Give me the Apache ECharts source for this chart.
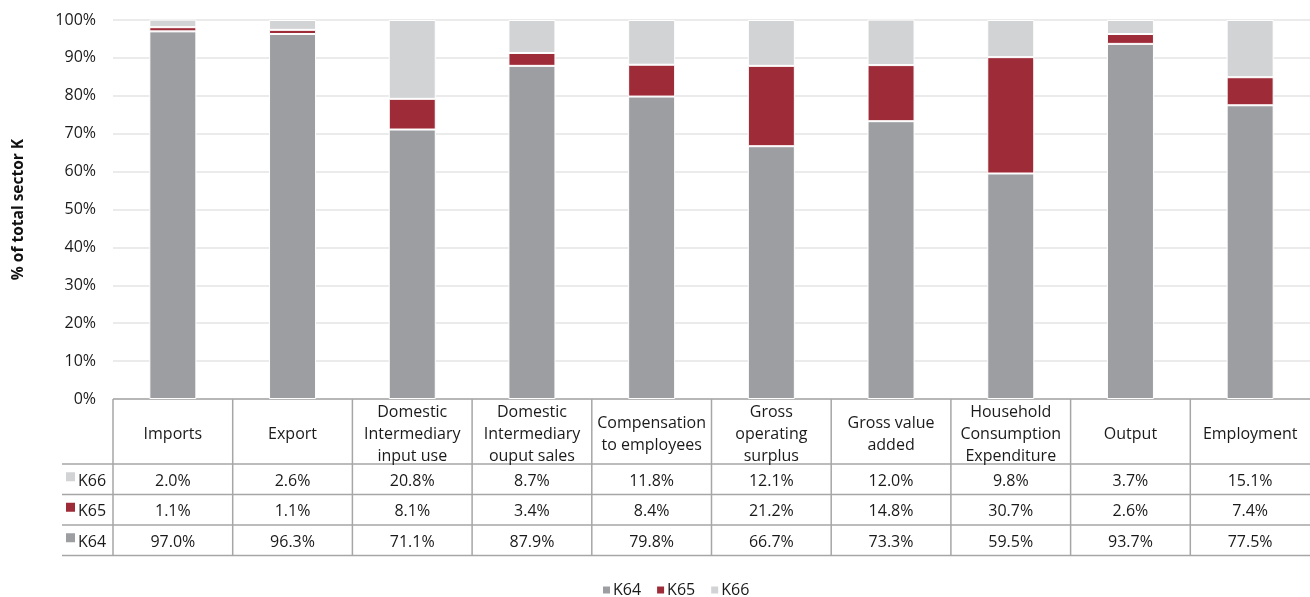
<!DOCTYPE html>
<html>
<head>
<meta charset="utf-8">
<script src="https://cdn.jsdelivr.net/npm/echarts@6/dist/echarts.min.js"></script>
<style>
html,body{margin:0;padding:0;background:#fff;}
#main{width:1310px;height:597px;}
</style>
</head>
<body>
<div id="main"></div>
<script>
const categories = ['Imports', 'Export', 'Domestic\nIntermediary\ninput use', 'Domestic\nIntermediary\nouput sales', 'Compensation\nto employees', 'Gross\noperating\nsurplus', 'Gross value\nadded', 'Household\nConsumption\nExpenditure', 'Output', 'Employment'];
const K64 = [97.0, 96.3, 71.1, 87.9, 79.8, 66.7, 73.3, 59.5, 93.7, 77.5];
const K65 = [1.1, 1.1, 8.1, 3.4, 8.4, 21.2, 14.8, 30.7, 2.6, 7.4];
const K66 = [2.0, 2.6, 20.8, 8.7, 11.8, 12.1, 12.0, 9.8, 3.7, 15.1];
const seriesNames = ['K64', 'K65', 'K66'];
const colors = {K64: '#9d9ea2', K65: '#9e2b38', K66: '#d2d3d5'};
const tableRows = [['K66', K66], ['K65', K65], ['K64', K64]];

const FONT = 'Open Sans';
const FS = 16;
const TXT = '#1a1a1a';
const chart = echarts.init(document.getElementById('main'));
const GRID = {left: 113, right: 0, top: 20, bottom: 198};
const option = {
  animation: false,
  textStyle: {fontFamily: FONT},
  grid: GRID,
  legend: {
    top: 577, left: 596,
    data: seriesNames,
    icon: 'rect', itemWidth: 9, itemHeight: 9, itemGap: 14,
    textStyle: {fontSize: FS, color: TXT, fontFamily: FONT, padding: [0, 0, 0, -3]}
  },
  xAxis: {
    type: 'category', data: categories,
    axisLine: {show: false}, axisTick: {show: false}, axisLabel: {show: false}
  },
  yAxis: {
    type: 'value', min: 0, max: 100, interval: 10,
    name: '% of total sector K', nameLocation: 'middle', nameGap: 86,
    nameTextStyle: {fontWeight: 'bold', fontSize: 15.5, color: '#111', fontFamily: 'Open Sans'},
    axisLabel: {formatter: '{value}%', fontSize: FS, color: TXT, margin: 17},
    splitLine: {lineStyle: {color: '#e4e4e4', width: 1.5}},
    axisLine: {show: false}, axisTick: {show: false}
  },
  series: [
    {name: 'K64', data: K64},
    {name: 'K65', data: K65},
    {name: 'K66', data: K66}
  ].map(s => ({
    name: s.name, type: 'bar', stack: 'total', data: s.data, barWidth: 47,
    itemStyle: {color: colors[s.name], borderColor: '#fff', borderWidth: 1}
  }))
};
chart.setOption(option);

// Data table drawn under the plot area
const y0 = chart.convertToPixel({yAxisIndex: 0}, 0);
const c0 = chart.convertToPixel({xAxisIndex: 0}, 0);
const c1 = chart.convertToPixel({xAxisIndex: 0}, 1);
const colW = c1 - c0;
const leftX = c0 - colW / 2;
const rightX = 1310;
const headerH = 65, rowH = 30.5;
const labelLeft = 62;
const lineColor = '#a6a6a6';
const els = [];
const hline = (x1, x2, y) => els.push({type: 'line', shape: {x1, y1: y, x2, y2: y}, style: {stroke: lineColor, lineWidth: 1.5}, silent: true});
const vline = (x, ya, yb) => els.push({type: 'line', shape: {x1: x, y1: ya, x2: x, y2: yb}, style: {stroke: lineColor, lineWidth: 1.5}, silent: true});
const tableBottom = y0 + headerH + rowH * tableRows.length;
hline(leftX, rightX, y0);
for (let r = 0; r <= tableRows.length; r++) hline(labelLeft, rightX, y0 + headerH + rowH * r);
for (let i = 0; i < categories.length; i++) vline(leftX + colW * i, y0, tableBottom);
categories.forEach((c, i) => {
  const cx = chart.convertToPixel({xAxisIndex: 0}, i);
  els.push({type: 'text', x: cx, y: y0 + headerH / 2 + 3, silent: true,
    style: {text: c, align: 'center', verticalAlign: 'middle', fontSize: FS, lineHeight: 22, fill: TXT, fontFamily: FONT}});
  tableRows.forEach((row, r) => {
    els.push({type: 'text', x: cx, y: y0 + headerH + rowH * r + rowH / 2 + 2, silent: true,
      style: {text: row[1][i].toFixed(1) + '%', align: 'center', verticalAlign: 'middle', fontSize: FS, fill: TXT, fontFamily: FONT}});
  });
});
tableRows.forEach((row, r) => {
  const yc = y0 + headerH + rowH * r + rowH / 2;
  els.push({type: 'rect', shape: {x: 66, y: yc - 7, width: 9, height: 9}, style: {fill: colors[row[0]]}, silent: true});
  els.push({type: 'text', x: 78, y: yc + 2, silent: true,
    style: {text: row[0], align: 'left', verticalAlign: 'middle', fontSize: FS, fill: TXT, fontFamily: FONT}});
});
chart.setOption({graphic: {elements: els}});
</script>
</body>
</html>
